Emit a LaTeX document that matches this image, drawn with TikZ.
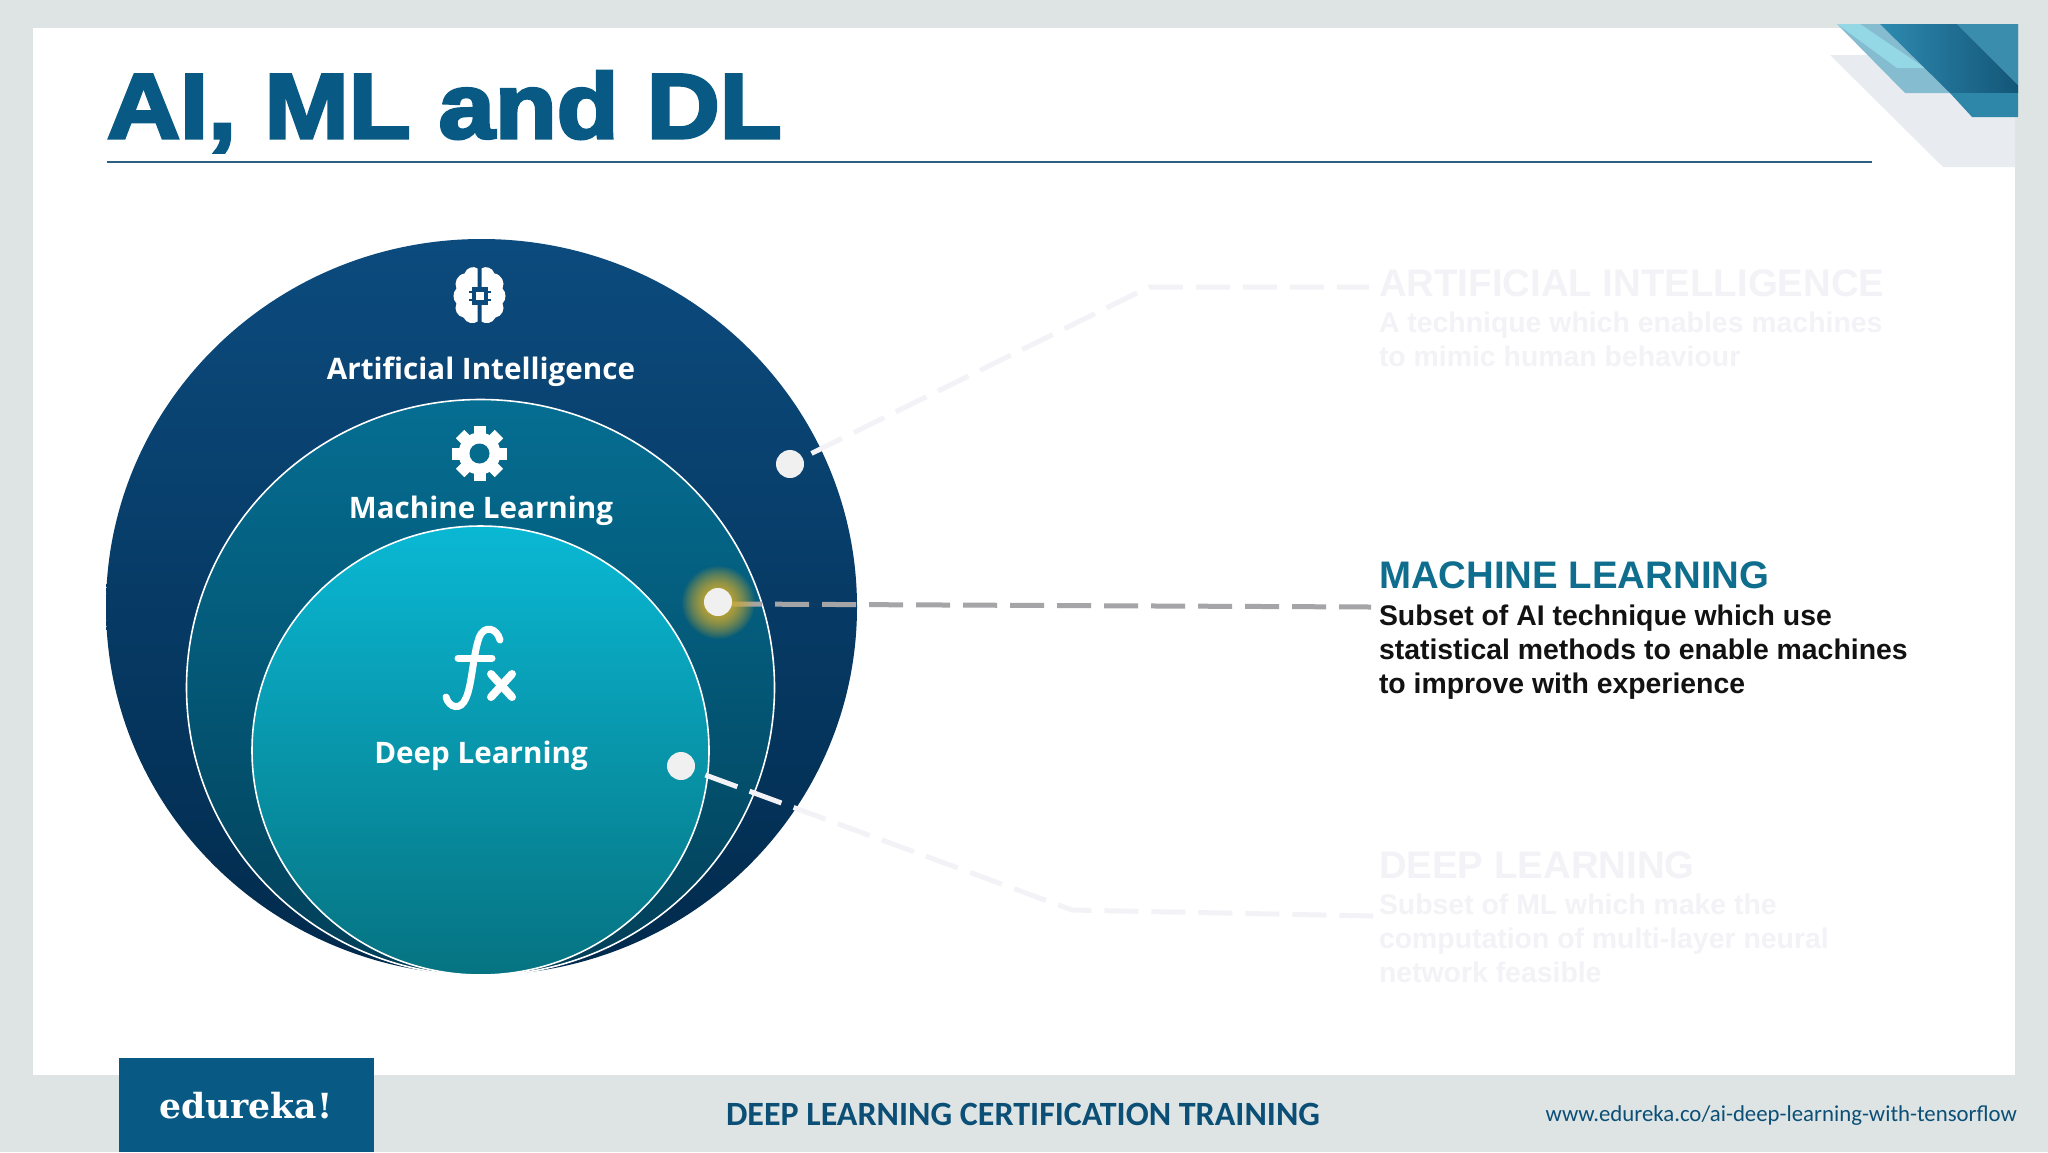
\documentclass[tikz,border=0pt]{standalone}
\usepackage{fontspec}
\setmainfont{Liberation Sans}
\newfontfamily\titlefont[BoldFeatures={FakeBold=3.5,FakeStretch=1.1}]{Liberation Sans}
\newfontfamily\labelfont{Open Sans}
\newfontfamily\footfont{Carlito}
\newfontfamily\logofont{DejaVu Serif}
\usepackage{tikz}
\usetikzlibrary{positioning}
\usetikzlibrary{shapes.geometric}
\usetikzlibrary{fadings}

\definecolor{slidegrey}{HTML}{DEE4E3}
\definecolor{titleblue}{HTML}{085A84}
\definecolor{rulecol}{HTML}{2C5F80}
\definecolor{footblue}{HTML}{0B4F77}
\definecolor{mlteal}{HTML}{0F6D8E}
\definecolor{faintcol}{HTML}{F3F2F6}
\definecolor{dotcol}{HTML}{F0F0F0}
\definecolor{linegrey}{HTML}{A5A5A8}
\definecolor{brainbg}{HTML}{0C4A7C}
\definecolor{gearbg}{HTML}{056C8E}
\definecolor{cornerpale}{HTML}{E8ECF0}
\definecolor{cornerlight}{HTML}{86BCCF}
\definecolor{cornersky}{HTML}{93D8E4}
\definecolor{cornerleft}{HTML}{2E8AB0}
\definecolor{cornerright}{HTML}{135678}
\definecolor{cornertop}{HTML}{3A8DAC}
\definecolor{cornerlow}{HTML}{2E86A8}
\definecolor{aitop}{HTML}{0C4B7E}
\definecolor{aimid}{HTML}{07416F}
\definecolor{aibot}{HTML}{012A4C}
\definecolor{mltop}{HTML}{056E92}
\definecolor{mlmid}{HTML}{026684}
\definecolor{mlbot}{HTML}{023F58}
\definecolor{dltop}{HTML}{0AB8D4}
\definecolor{dlmid}{HTML}{07A0B6}
\definecolor{dlbot}{HTML}{067381}
\definecolor{glowcol}{HTML}{C8A830}

\tikzfading[name=glowfade,inner color=transparent!0,outer color=transparent!100]

\begin{document}
\begin{tikzpicture}[x=0.5pt,y=-0.5pt,
                    every node/.style={inner sep=0pt,outer sep=0pt},
                    ring node/.style={ellipse,draw=white,line width=0.8pt},
                    dot node/.style={circle,fill=dotcol,minimum size=14pt},
                    head text/.style={font=\fontsize{19.2}{23}\selectfont\bfseries,anchor=base west},
                    body text/.style={font=\fontsize{14.2}{17}\selectfont\bfseries,align=left,anchor=north west},
                    ring text/.style={font=\labelfont\fontsize{14.8}{18}\selectfont\bfseries,text=white,anchor=base},
                    guide line/.style={line width=2.5pt,dash pattern=on 17pt off 6.5pt}]

  \useasboundingbox (0,0) rectangle (2048,1152);

  % slide
  \fill[slidegrey] (0,0) rectangle (2048,1152);
  \fill[white] (33,28) rectangle (2015,1075);

  % corner
  \fill[cornerpale] (1830,55) -- (1943,167) -- (2015,167) -- (2015,55) -- cycle;
  \fill[cornerlight] (1837,24) -- (1905,93) -- (2018,93) -- (2018,24) -- cycle;
  \fill[cornersky] (1837,24) -- (1897,68) -- (1925,68) -- (1860,24) -- cycle;
  \shade[left color=cornerleft,right color=cornerright] (1880,24) -- (1950,93) -- (2018,93) -- (2018,85) -- (1957,24) -- cycle;
  \fill[cornertop] (1957,24) -- (2018,85) -- (2018,24) -- cycle;
  \fill[cornerlow] (1950,93) -- (1972,117) -- (2018,117) -- (2018,93) -- cycle;

  % title
  \node[font=\titlefont\fontsize{46}{50}\selectfont\bfseries,text=titleblue,anchor=base west] (title) at (107,138) {AI, ML and DL};
  \draw[rulecol,line width=1pt] (107,162) -- (1872,162);

  % rings
  \node[ellipse,minimum width=375.5pt,minimum height=368pt,top color=aitop,middle color=aimid,bottom color=aibot] (ai) at (481.5,607) {};
  \node[ring node,minimum width=294pt,minimum height=288pt,top color=mltop,middle color=mlmid,bottom color=mlbot] (ml) at (480.5,687.5) {};
  \node[ring node,minimum width=228.5pt,minimum height=224.5pt,top color=dltop,middle color=dlmid,bottom color=dlbot] (dl) at (480.5,750.5) {};

  % brain
  \begin{scope}[shift={(479.5,295.5)}]
    \foreach \s in {1,-1} {
      \fill[white,xscale=\s] (2,-27) .. controls (6,-30) and (13,-28) .. (15,-22)
        .. controls (22,-21) and (26,-13) .. (23,-7) .. controls (27,-3) and (27,4) .. (23,8)
        .. controls (26,14) and (22,21) .. (16,22) .. controls (13,28) and (6,29) .. (2,26) -- cycle;
    }
    \fill[brainbg] (-8,-9) rectangle (8,9);
    \fill[brainbg] (-11,-5) rectangle (11,-3);
    \fill[brainbg] (-11,3) rectangle (11,5);
    \fill[white] (-4,-4) rectangle (4,4);
  \end{scope}

  % gear
  \begin{scope}[shift={(479.5,453.5)}]
    \foreach \a in {0,45,...,315} {
      \fill[white,rotate=\a] (-6,-27.5) rectangle (6,0);
    }
    \fill[white] (0,0) circle (21);
    \fill[gearbg] (0,0) circle (10);
  \end{scope}

  % fx
  \draw[white,line width=3.5pt,line cap=round] (500,640) .. controls (497,628) and (484,624) .. (479,638)
    .. controls (473,655) and (472,685) .. (466,698) .. controls (461,711) and (449,708) .. (446,697);
  \draw[white,line width=3.5pt,line cap=round] (458,658) -- (492,658);
  \draw[white,line width=4pt,line cap=round] (491,674) -- (512,697);
  \draw[white,line width=4pt,line cap=round] (512,674) -- (491,697);

  % ring labels
  \node[ring text] (ailabel) at (481,379) {Artificial Intelligence};
  \node[ring text] (mllabel) at (481,518) {Machine Learning};
  \node[ring text] (dllabel) at (481,763) {Deep Learning};

  % dots and guides
  \coordinate (aibend) at (1149,287);
  \coordinate (aiend) at (1369,287);
  \coordinate (dlbend) at (1072,910);
  \coordinate (dlend) at (1373,916);
  \coordinate (mlend) at (1371,607);

  \node[dot node] (aidot) at (790,464) {};
  \node[dot node] (mldot) at (718,602) {};
  \node[dot node] (dldot) at (681,766) {};

  \draw[guide line,faintcol,shorten <=5pt] (aidot) -- (aibend) -- (aiend);
  \draw[guide line,faintcol,shorten <=6pt] (dldot) -- (dlbend) -- (dlend);
  \draw[guide line,linegrey,dash phase=2pt] ([yshift=-1pt]mldot.east) -- (mlend);
  \foreach \i in {1,2} {
    \fill[glowcol,path fading=glowfade] (mldot) circle (37);
  }
  \node[dot node] (mldottop) at (mldot) {};

  % texts
  \node[head text,text=faintcol] (aihead) at (1379,296) {ARTIFICIAL INTELLIGENCE};
  \node[body text,text=faintcol,below=8pt of aihead.base west,anchor=north west] (aibody) {A technique which enables machines\\to mimic human behaviour};

  \node[head text,text=mlteal] (mlhead) at (1379,588) {MACHINE LEARNING};
  \node[body text,text=black!93,below=8.7pt of mlhead.base west,anchor=north west] (mlbody) {Subset of AI technique which use\\statistical methods to enable machines\\to improve with experience};

  \node[head text,text=faintcol] (dlhead) at (1379,878) {DEEP LEARNING};
  \node[body text,text=faintcol,below=8pt of dlhead.base west,anchor=north west] (dlbody) {Subset of ML which make the\\computation of multi-layer neural\\network feasible};

  % footer
  \fill[titleblue] (119,1058) rectangle (374,1152);
  \node[font=\logofont\fontsize{17.3}{20}\selectfont\bfseries,text=white,anchor=base] (logo) at (246,1118) {edureka!};
  \node[font=\footfont\fontsize{17}{20}\selectfont\bfseries,text=footblue,anchor=base] (course) at (1023,1125) {DEEP LEARNING CERTIFICATION TRAINING};
  \node[font=\footfont\fontsize{11.4}{15}\selectfont,text=footblue,anchor=base east] (site) at (2017,1121) {www.edureka.co/ai-deep-learning-with-tensorflow};
\end{tikzpicture}
\end{document}
